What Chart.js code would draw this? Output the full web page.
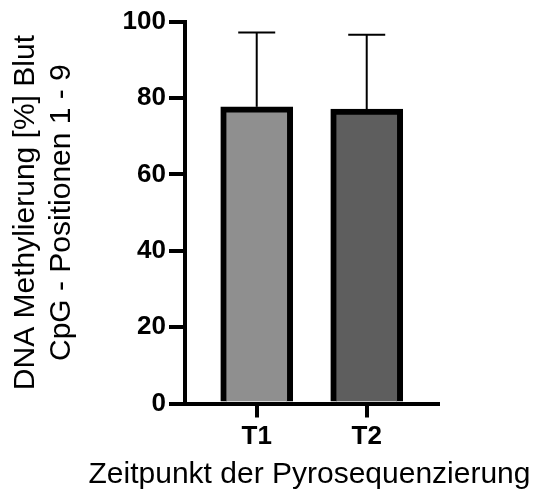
<!DOCTYPE html>
<html>
<head>
<meta charset="utf-8">
<script src="https://cdn.jsdelivr.net/npm/chart.js@4.4.1/dist/chart.umd.min.js"></script>
<style>
  html, body { margin: 0; padding: 0; background: #ffffff; }
  #wrap { width: 541px; height: 501px; position: relative; }
</style>
</head>
<body>
<div id="wrap"><canvas id="chart" width="541" height="501"></canvas></div>
<script>
// Time points of the pyrosequencing run
const categories = ['T1', 'T2'];
// Mean DNA methylation (%) in blood, CpG positions 1-9
const meanValues = [77.7, 77.1];
// Standard deviation (upper error bar)
const sdValues = [19.5, 19.5];
// Y axis tick values
const yTicks = [0, 20, 40, 60, 80, 100];
const barColors = ['#8f8f8f', '#5e5e5e'];
const xTitle = 'Zeitpunkt der Pyrosequenzierung';
const yTitle = ['DNA Methylierung [%] Blut', 'CpG - Positionen 1 - 9'];

const FONT = "'Liberation Sans', Arial, Helvetica, sans-serif";

// category i sits at x = i + 1 on a linear axis
const points = categories.map((c, i) => ({ x: i + 1, y: meanValues[i] }));

const errorBars = {
  id: 'errorBars',
  afterDatasetsDraw(chart) {
    const { ctx, scales: { x, y } } = chart;
    ctx.save();
    ctx.strokeStyle = '#000';
    ctx.lineCap = 'butt';
    categories.forEach((c, i) => {
      const px = x.getPixelForValue(i + 1);
      const yTop = y.getPixelForValue(meanValues[i] + sdValues[i]);
      const yMean = y.getPixelForValue(meanValues[i]);
      ctx.lineWidth = 2;
      ctx.beginPath();
      ctx.moveTo(px, yMean);
      ctx.lineTo(px, yTop);
      ctx.stroke();
      ctx.beginPath();
      ctx.moveTo(px - 18.5, yTop);
      ctx.lineTo(px + 18.5, yTop);
      ctx.stroke();
    });
    ctx.restore();
  }
};

// x axis title, drawn without the width limit of the axis box
const xAxisTitle = {
  id: 'xAxisTitle',
  afterDraw(chart) {
    const { ctx, scales: { x } } = chart;
    ctx.save();
    ctx.fillStyle = '#000';
    ctx.font = '30px ' + FONT;
    ctx.textAlign = 'center';
    ctx.textBaseline = 'alphabetic';
    ctx.fillText(xTitle, (x.left + x.right) / 2 - 2, x.bottom - 18);
    ctx.restore();
  }
};

new Chart(document.getElementById('chart'), {
  type: 'bar',
  data: {
    datasets: [{
      data: points,
      backgroundColor: barColors,
      borderColor: '#000',
      borderWidth: 6,
      borderSkipped: 'start',
      barThickness: 72
    }]
  },
  options: {
    responsive: false,
    animation: false,
    plugins: { legend: { display: false }, tooltip: { enabled: false } },
    layout: { padding: { top: 21.7, right: 103, bottom: 0, left: 0 } },
    scales: {
      x: {
        type: 'linear',
        offset: false,
        min: 0.348,
        max: 2.648,
        afterBuildTicks(scale) { scale.ticks = categories.map((c, i) => ({ value: i + 1 })); },
        afterFit(scale) { scale.height = 97.5; },
        grid: { display: true, offset: false, drawOnChartArea: false, drawTicks: true, tickLength: 14, lineWidth: 4, color: '#000' },
        border: { display: true, width: 4, color: '#000' },
        ticks: {
          padding: 4,
          color: '#000',
          font: { family: FONT, size: 26, weight: 'bold' },
          callback: (v) => categories[Math.round(v) - 1] ?? ''
        },
        title: { display: false }
      },
      y: {
        min: 0,
        max: 100,
        afterBuildTicks(scale) { scale.ticks = yTicks.map(v => ({ value: v })); },
        afterFit(scale) { scale.width = 185; },
        grid: { display: true, drawOnChartArea: false, drawTicks: true, tickLength: 16, lineWidth: 4, color: '#000' },
        border: { display: true, width: 4, color: '#000' },
        ticks: {
          padding: 3,
          color: '#000',
          font: { family: FONT, size: 26, weight: 'bold' }
        },
        title: {
          display: true,
          text: yTitle,
          color: '#000',
          font: { family: FONT, size: 30 },
          padding: { top: 7.5, bottom: 0 }
        }
      }
    }
  },
  plugins: [errorBars, xAxisTitle]
});
</script>
</body>
</html>
